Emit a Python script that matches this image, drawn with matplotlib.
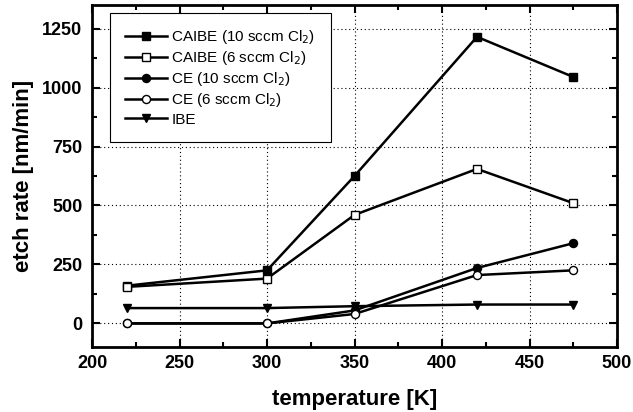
import matplotlib
matplotlib.use('Agg')
import matplotlib.pyplot as plt
from matplotlib.ticker import MultipleLocator

plt.rcParams['font.family'] = ['Liberation Sans', 'DejaVu Sans']

temp = [220, 300, 350, 420, 475]
caibe_10 = [160, 225, 625, 1215, 1045]
caibe_6 = [155, 190, 460, 655, 510]
ce_10 = [0, 0, 55, 235, 340]
ce_6 = [0, 0, 40, 205, 225]
ibe = [65, 65, 73, 80, 80]

series = [
    (caibe_10, 's', 'black', 'CAIBE (10 sccm Cl$_2$)'),
    (caibe_6, 's', 'white', 'CAIBE (6 sccm Cl$_2$)'),
    (ce_10, 'o', 'black', 'CE (10 sccm Cl$_2$)'),
    (ce_6, 'o', 'white', 'CE (6 sccm Cl$_2$)'),
    (ibe, 'v', 'black', 'IBE'),
]

fig = plt.figure(figsize=(6.33, 4.12), dpi=100)
ax = fig.add_axes([92/633, 1-347/412, (617-92)/633, (347-5)/412])

for vals, m, fc, lab in series:
    ax.plot(temp, vals, color='black', lw=1.8, marker=m, markersize=5.8,
            markerfacecolor=fc, markeredgecolor='black', markeredgewidth=1, label=lab)

ax.set_xlim(200, 500)
ax.set_ylim(-100, 1350)
ax.xaxis.set_major_locator(MultipleLocator(50))
ax.xaxis.set_minor_locator(MultipleLocator(25))
ax.yaxis.set_major_locator(MultipleLocator(250))
ax.yaxis.set_minor_locator(MultipleLocator(125))
ax.grid(True, which='major', color='black', linestyle=(0, (1, 2.5)), lw=0.8)
ax.tick_params(which='both', direction='in', top=True, right=True, width=1.5)
ax.tick_params(which='major', length=6, labelsize=13)
ax.tick_params(axis='x', which='major', pad=6)
ax.tick_params(axis='y', which='major', pad=7)
ax.tick_params(which='minor', length=3.5)
for lbl in ax.get_xticklabels() + ax.get_yticklabels():
    lbl.set_fontweight('bold')
for s in ax.spines.values():
    s.set_linewidth(2)

ax.set_xlabel('temperature [K]', fontsize=16, fontweight='bold', labelpad=12)
ax.set_ylabel('etch rate [nm/min]', fontsize=16, fontweight='bold', labelpad=6)

leg = ax.legend(loc='upper left', bbox_to_anchor=(0.0343, 0.9766), borderaxespad=0,
                fontsize=11, fancybox=False, framealpha=1, edgecolor='black',
                handlelength=2.75, handletextpad=0.26, labelspacing=0.2, borderpad=1.0)
leg.get_frame().set_linewidth(0.8)

fig.savefig('out.png', dpi=100)
